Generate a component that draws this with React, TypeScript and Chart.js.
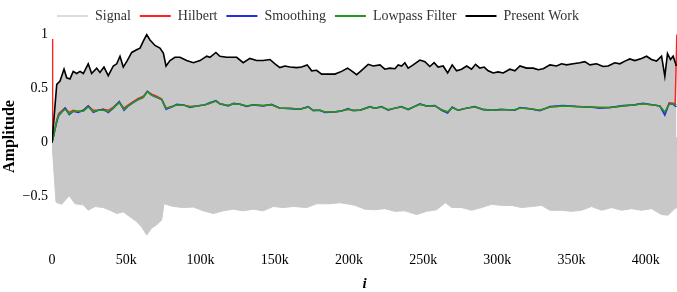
import React, { useEffect, useRef } from "react";
import { Chart, registerables } from "chart.js";

Chart.register(...registerables);

// x values in thousands of samples (i / 1000)
const xTicks = [0, 50, 100, 150, 200, 250, 300, 350, 400];
const yTicks = [-0.5, 0, 0.5, 1];
const xMaxK = 421;
const yMin = -0.9;
const yMax = 1.015;

const legendNames = ["Signal", "Hilbert", "Smoothing", "Lowpass Filter", "Present Work"];
const legendColors = ["#dcdcdc", "#ff2020", "#2030e0", "#1e9a1e", "#000000"];

const presentWork: [number, number][] = [
  [0, 0], [3.2, 0.54], [5.4, 0.57], [8.1, 0.68], [9.9, 0.6], [12.1, 0.59], [14.3, 0.66], [16.6, 0.64],
  [18.9, 0.66], [21.1, 0.64], [24.4, 0.73], [26.7, 0.64], [30.1, 0.69], [32.3, 0.65], [35.0, 0.7],
  [37.9, 0.62], [41.3, 0.71], [43.6, 0.73], [45.8, 0.8], [48.0, 0.7], [50.7, 0.76], [53.7, 0.835],
  [57.0, 0.86], [59.3, 0.875], [61.5, 0.94], [63.8, 1.0], [66.0, 0.95], [69.4, 0.9], [72.7, 0.875],
  [75.0, 0.83], [76.8, 0.71], [79.5, 0.76], [82.8, 0.79], [86.2, 0.79], [90.7, 0.76], [95.2, 0.74],
  [99.7, 0.76], [103.0, 0.79], [104.2, 0.8], [106.4, 0.79], [110.4, 0.835], [113.1, 0.8], [117.6, 0.79],
  [121.0, 0.79], [124.4, 0.79], [128.8, 0.74], [133.3, 0.78], [137.8, 0.76], [142.3, 0.76], [146.8, 0.77],
  [150.2, 0.73], [153.5, 0.695], [156.9, 0.71], [160.3, 0.7], [164.8, 0.695], [168.1, 0.7], [171.9, 0.72],
  [174.9, 0.665], [178.2, 0.67], [181.6, 0.635], [186.1, 0.635], [190.6, 0.635], [195.1, 0.66],
  [199.1, 0.69], [201.8, 0.665], [205.2, 0.63], [207.4, 0.655], [213.0, 0.725], [216.4, 0.71],
  [220.9, 0.72], [224.2, 0.68], [227.6, 0.69], [231.0, 0.685], [233.2, 0.72], [235.5, 0.71],
  [237.7, 0.74], [239.9, 0.69], [243.3, 0.72], [247.8, 0.765], [251.2, 0.75], [254.5, 0.705],
  [257.4, 0.74], [260.1, 0.7], [263.5, 0.71], [266.5, 0.645], [269.6, 0.72], [272.5, 0.665],
  [275.9, 0.68], [279.3, 0.71], [282.6, 0.68], [285.3, 0.725], [288.2, 0.69], [291.1, 0.7],
  [293.8, 0.665], [297.2, 0.645], [300.5, 0.655], [303.9, 0.645], [308.4, 0.68], [311.8, 0.665],
  [315.2, 0.71], [319.7, 0.69], [324.2, 0.69], [327.5, 0.675], [330.9, 0.685], [335.4, 0.72],
  [339.9, 0.71], [343.2, 0.73], [346.6, 0.72], [351.1, 0.73], [355.6, 0.74], [358.9, 0.75],
  [362.3, 0.72], [366.8, 0.73], [371.2, 0.705], [374.6, 0.71], [379.1, 0.74], [382.5, 0.73],
  [385.9, 0.755], [389.2, 0.775], [392.6, 0.76], [397.1, 0.78], [400.5, 0.8], [403.8, 0.77],
  [407.2, 0.755], [410.6, 0.8], [412.8, 0.615], [414.6, 0.825], [416.6, 0.77], [418.4, 0.8], [420.6, 0.71],
];

const signalLower: [number, number][] = [
  [0, 0], [2.7, -0.55], [6.5, -0.57], [11.6, -0.49], [15.5, -0.565], [21.1, -0.575], [24.4, -0.625],
  [29.0, -0.59], [34.5, -0.6], [39.1, -0.625], [43.6, -0.655], [48.0, -0.64], [52.5, -0.685],
  [57.0, -0.73], [60.4, -0.78], [63.8, -0.855], [67.1, -0.79], [70.5, -0.76], [73.9, -0.715],
  [75.4, -0.565], [81.7, -0.59], [88.4, -0.6], [95.2, -0.595], [101.9, -0.63], [108.6, -0.655],
  [115.4, -0.63], [122.1, -0.615], [128.8, -0.63], [135.6, -0.615], [142.3, -0.63], [149.0, -0.59],
  [155.8, -0.6], [162.5, -0.59], [171.5, -0.6], [178.2, -0.565], [187.2, -0.565], [193.9, -0.555],
  [200.6, -0.57], [204.3, -0.58], [210.8, -0.615], [217.5, -0.62], [224.2, -0.61], [231.0, -0.635],
  [237.7, -0.63], [245.6, -0.665], [252.3, -0.635], [259.1, -0.62], [265.1, -0.555], [269.2, -0.6],
  [275.9, -0.6], [282.6, -0.625], [289.4, -0.6], [296.1, -0.57], [302.8, -0.58], [309.6, -0.58],
  [316.3, -0.6], [323.0, -0.59], [329.8, -0.58], [335.4, -0.625], [343.2, -0.625], [349.9, -0.635],
  [356.7, -0.625], [363.4, -0.59], [370.2, -0.625], [376.9, -0.6], [383.6, -0.625], [390.4, -0.61],
  [397.1, -0.625], [403.8, -0.61], [410.6, -0.665], [415.0, -0.67], [419.5, -0.61], [421, -0.6],
];

const lowpass: [number, number][] = [
  [0, 0], [3.2, 0.2], [4.5, 0.26], [8.8, 0.31], [11.6, 0.27], [14.3, 0.29], [17.7, 0.29], [21.1, 0.29],
  [24.4, 0.33], [27.8, 0.29], [31.2, 0.3], [34.5, 0.3], [37.9, 0.29], [41.3, 0.32], [45.3, 0.37],
  [48.5, 0.31], [51.4, 0.34], [54.7, 0.37], [58.1, 0.4], [61.5, 0.42], [64.2, 0.47], [67.1, 0.44],
  [70.5, 0.42], [73.9, 0.4], [76.8, 0.32], [80.6, 0.33], [84.0, 0.35], [88.4, 0.35], [92.9, 0.33],
  [97.4, 0.34], [103.0, 0.35], [105.3, 0.36], [110.4, 0.385], [113.1, 0.36], [118.7, 0.345],
  [122.3, 0.36], [126.6, 0.355], [131.1, 0.34], [135.6, 0.35], [142.3, 0.345], [147.9, 0.35],
  [153.5, 0.32], [160.3, 0.32], [167.0, 0.31], [172.6, 0.33], [176.0, 0.3], [180.5, 0.3],
  [183.8, 0.285], [189.4, 0.285], [193.9, 0.29], [199.5, 0.31], [202.9, 0.3], [207.4, 0.3],
  [214.1, 0.33], [217.5, 0.32], [222.0, 0.33], [226.5, 0.305], [231.0, 0.32], [235.5, 0.33],
  [239.9, 0.31], [247.8, 0.355], [252.3, 0.34], [257.9, 0.34], [262.4, 0.305], [266.5, 0.285],
  [269.6, 0.325], [273.6, 0.3], [279.3, 0.32], [284.8, 0.33], [290.4, 0.31], [296.1, 0.3],
  [302.8, 0.305], [311.8, 0.305], [315.2, 0.32], [321.9, 0.315], [328.6, 0.3], [335.4, 0.33],
  [344.3, 0.34], [353.3, 0.335], [362.3, 0.33], [369.0, 0.325], [375.8, 0.325], [384.7, 0.34],
  [391.5, 0.35], [398.2, 0.36], [404.9, 0.35], [409.4, 0.34], [412.8, 0.285], [415.7, 0.355],
  [418.4, 0.36], [420.6, 0.35],
];

const smoothing: [number, number][] = [
  [0, 0], [3.2, 0.19], [4.5, 0.25], [8.8, 0.32], [11.6, 0.26], [14.3, 0.29], [17.7, 0.28], [21.1, 0.3],
  [24.4, 0.34], [27.8, 0.28], [31.2, 0.3], [34.5, 0.31], [37.9, 0.28], [41.3, 0.32], [45.3, 0.38],
  [48.5, 0.3], [51.4, 0.34], [54.7, 0.37], [58.1, 0.4], [61.5, 0.42], [64.2, 0.475], [67.1, 0.44],
  [70.5, 0.42], [73.9, 0.4], [76.8, 0.31], [80.6, 0.33], [84.0, 0.355], [88.4, 0.35], [92.9, 0.325],
  [97.4, 0.34], [103.0, 0.35], [105.3, 0.365], [110.4, 0.39], [113.1, 0.36], [118.7, 0.34],
  [122.3, 0.365], [126.6, 0.355], [131.1, 0.335], [135.6, 0.35], [142.3, 0.34], [147.9, 0.355],
  [153.5, 0.32], [160.3, 0.315], [167.0, 0.31], [172.6, 0.335], [176.0, 0.295], [180.5, 0.3],
  [183.8, 0.28], [189.4, 0.285], [193.9, 0.29], [199.5, 0.315], [202.9, 0.295], [207.4, 0.3],
  [214.1, 0.335], [217.5, 0.32], [222.0, 0.335], [226.5, 0.3], [231.0, 0.32], [235.5, 0.335],
  [239.9, 0.305], [247.8, 0.36], [252.3, 0.34], [257.9, 0.345], [262.4, 0.3], [266.5, 0.275],
  [269.6, 0.33], [273.6, 0.3], [279.3, 0.32], [284.8, 0.335], [290.4, 0.305], [296.1, 0.3],
  [302.8, 0.31], [311.8, 0.3], [315.2, 0.325], [321.9, 0.315], [328.6, 0.295], [335.4, 0.335],
  [344.3, 0.345], [353.3, 0.335], [362.3, 0.33], [369.0, 0.32], [375.8, 0.325], [384.7, 0.345],
  [391.5, 0.35], [398.2, 0.365], [404.9, 0.35], [409.4, 0.34], [412.8, 0.255], [415.7, 0.36],
  [418.4, 0.355], [420.6, 0.33],
];

const hilbert: [number, number][] = [
  [0, 0.96], [0.4, 0.02], [3.2, 0.21], [4.5, 0.27], [8.8, 0.32], [11.6, 0.28], [14.3, 0.3], [17.7, 0.29],
  [21.1, 0.3], [24.4, 0.34], [27.8, 0.3], [31.2, 0.3], [34.5, 0.31], [37.9, 0.3], [41.3, 0.33],
  [45.3, 0.375], [48.5, 0.32], [51.4, 0.35], [54.7, 0.38], [58.1, 0.41], [61.5, 0.43], [64.2, 0.475],
  [67.1, 0.45], [70.5, 0.43], [73.9, 0.405], [76.8, 0.32], [80.6, 0.335], [84.0, 0.35], [88.4, 0.35],
  [92.9, 0.335], [97.4, 0.34], [103.0, 0.35], [105.3, 0.36], [110.4, 0.385], [113.1, 0.36],
  [118.7, 0.345], [122.3, 0.36], [126.6, 0.355], [131.1, 0.34], [135.6, 0.35], [142.3, 0.345],
  [147.9, 0.35], [153.5, 0.32], [160.3, 0.32], [167.0, 0.31], [172.6, 0.33], [176.0, 0.3],
  [180.5, 0.3], [183.8, 0.285], [189.4, 0.285], [193.9, 0.29], [199.5, 0.31], [202.9, 0.3],
  [207.4, 0.3], [214.1, 0.33], [217.5, 0.32], [222.0, 0.33], [226.5, 0.305], [231.0, 0.32],
  [235.5, 0.33], [239.9, 0.31], [247.8, 0.355], [252.3, 0.34], [257.9, 0.34], [262.4, 0.305],
  [266.5, 0.285], [269.6, 0.325], [273.6, 0.3], [279.3, 0.32], [284.8, 0.33], [290.4, 0.31],
  [296.1, 0.3], [302.8, 0.305], [311.8, 0.305], [315.2, 0.32], [321.9, 0.315], [328.6, 0.3],
  [335.4, 0.33], [344.3, 0.34], [353.3, 0.335], [362.3, 0.33], [369.0, 0.325], [375.8, 0.325],
  [384.7, 0.34], [391.5, 0.35], [398.2, 0.36], [404.9, 0.35], [409.4, 0.34], [412.8, 0.27],
  [415.7, 0.37], [418.4, 0.365], [419.8, 0.36], [420.9, 1.0],
];

const toPoints = (arr: [number, number][]) => arr.map(([k, v]) => ({ x: k * 1000, y: v }));

const FONT = "'Liberation Serif', 'Times New Roman', serif";
const SIGNAL_FILL = "#c8c8c8";

export default function App() {
  const canvasRef = useRef<HTMLCanvasElement | null>(null);

  useEffect(() => {
    const canvas = canvasRef.current;
    if (!canvas) return;

    const legendShift = {
      id: "legendShift",
      afterLayout(chart: any) {
        const lg = chart.legend;
        if (!lg || !lg.lineWidths) return;
        const pad = lg.options.labels.padding;
        const start = (lg.left + pad + lg.right - lg.lineWidths[0]) / 2;
        const dx = 57 - start;
        lg.left += dx;
        lg.right += dx;
      },
    };

    const line = (label: string, data: [number, number][], color: string, order: number, width = 1.5) => ({
      label,
      data: toPoints(data),
      borderColor: color,
      backgroundColor: color,
      borderWidth: width,
      pointRadius: 0,
      tension: 0,
      fill: false,
      order,
    });

    const chart = new Chart(canvas, {
      type: "line",
      data: {
        datasets: [
          {
            label: "Signal",
            data: toPoints(presentWork),
            borderColor: SIGNAL_FILL,
            backgroundColor: SIGNAL_FILL,
            borderWidth: 1,
            pointRadius: 0,
            fill: { value: -0.05 },
            order: 6,
          },
          line("Hilbert", hilbert, legendColors[1], 4),
          line("Smoothing", smoothing, legendColors[2], 3),
          line("Lowpass Filter", lowpass, legendColors[3], 2),
          line("Present Work", presentWork, legendColors[4], 1, 1.6),
          {
            label: "signal-lower",
            data: toPoints(signalLower),
            borderColor: SIGNAL_FILL,
            backgroundColor: SIGNAL_FILL,
            borderWidth: 1,
            pointRadius: 0,
            fill: { value: 0.05 },
            order: 7,
          },
        ],
      },
      options: {
        animation: false,
        responsive: false,
        parsing: false as any,
        normalized: true,
        layout: { padding: 0 },
        plugins: {
          tooltip: { enabled: false },
          legend: {
            display: true,
            position: "top",
            labels: {
              boxWidth: 31,
              boxHeight: 2,
              padding: 9,
              color: "#333333",
              font: { family: FONT, size: 14 },
              generateLabels: () =>
                legendNames.map((name, i) => ({
                  text: name,
                  fillStyle: legendColors[i],
                  strokeStyle: legendColors[i],
                  lineWidth: 0,
                  hidden: false,
                  datasetIndex: i,
                  fontColor: "#333333",
                })),
            },
          },
        },
        scales: {
          x: {
            type: "linear",
            min: 0,
            max: xMaxK * 1000,
            grid: { display: false, drawTicks: false },
            border: { display: false },
            afterBuildTicks: (scale: any) => {
              scale.ticks = xTicks.map((v) => ({ value: v * 1000 }));
            },
            afterFit: (scale: any) => {
              scale.height = 52;
            },
            ticks: {
              padding: 12,
              color: "#000",
              maxRotation: 0,
              autoSkip: false,
              font: { family: FONT, size: 14 },
              callback: (v: any) => (Number(v) === 0 ? "0" : `${Math.round(Number(v) / 1000)}k`),
            },
            title: {
              display: true,
              text: "i",
              color: "#000",
              padding: { top: 0, bottom: 0 },
              font: { family: FONT, size: 15, weight: "bold", style: "italic", lineHeight: 1 },
            },
          },
          y: {
            type: "linear",
            min: yMin,
            max: yMax,
            grid: { display: false, drawTicks: false },
            border: { display: false },
            afterBuildTicks: (scale: any) => {
              scale.ticks = yTicks.map((v) => ({ value: v }));
            },
            afterFit: (scale: any) => {
              scale.width = 52;
            },
            ticks: {
              padding: 4,
              color: "#000",
              font: { family: FONT, size: 14 },
              callback: (v: any) => {
                const n = Number(v);
                const s = String(Math.abs(n));
                return n < 0 ? `\u2212${s}` : s;
              },
            },
            title: {
              display: true,
              text: "Amplitude",
              color: "#000",
              padding: { top: 2, bottom: 0 },
              font: { family: FONT, size: 16, weight: "bold", lineHeight: 1 },
            },
          },
        },
      },
      plugins: [legendShift],
    } as any);

    return () => {
      chart.destroy();
    };
  }, []);

  return (
    <div style={{ position: "absolute", left: 0, top: 0, width: 677, height: 292, background: "#fff" }}>
      <canvas ref={canvasRef} width={677} height={292} style={{ display: "block" }} />
    </div>
  );
}
